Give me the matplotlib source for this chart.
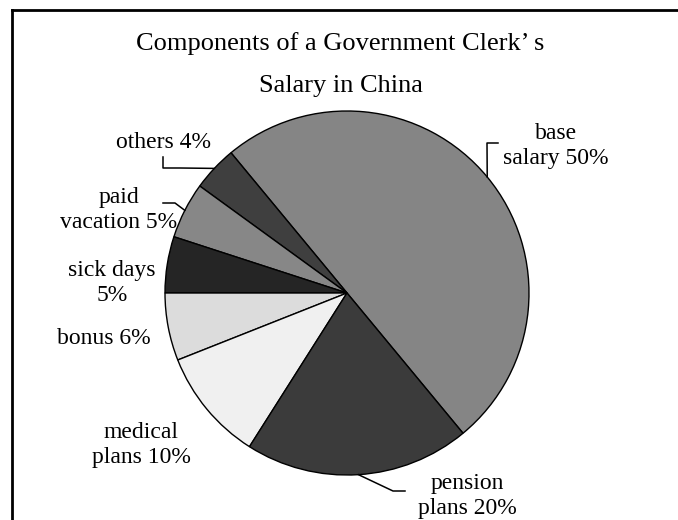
import numpy as np
import matplotlib.pyplot as plt
from matplotlib.lines import Line2D

# data (counterclockwise from the base salary wedge)
labels = ["base\nsalary 50%", "others 4%", "paid\nvacation 5%", "sick days\n5%",
          "bonus 6%", "medical\nplans 10%", "pension\nplans 20%"]
shares = [50, 4, 5, 5, 6, 10, 20]
colors = ["#858585", "#3f3f3f", "#878787", "#252525", "#dcdcdc", "#f0f0f0", "#3b3b3b"]

W, H = 678, 520
plt.rcParams['font.family'] = ['Liberation Serif', 'DejaVu Serif']

fig = plt.figure(figsize=(W / 100, H / 100), dpi=100)
ax = fig.add_axes([0, 0, 1, 1])

cx, cy, r = 347, H - 293, 182
wedges, _ = ax.pie(shares, colors=colors, startangle=-50.4, counterclock=True,
                   center=(cx, cy), radius=r,
                   wedgeprops=dict(edgecolor="black", linewidth=1.0))
ax.set_xlim(0, W)
ax.set_ylim(0, H)
ax.set_aspect("equal")
ax.axis("off")

# label block centres (pixels from top-left)
label_pos = [(556, 146), (163, 143), (119, 210), (112, 283),
             (104, 338), (141, 445), (467, 496)]
for lab, (x, y) in zip(labels, label_pos):
    ax.text(x, H - y, lab, ha="center", va="center", fontsize=17,
            multialignment="center", linespacing=1.25)

# leader lines: start on the wedge edge at mid angle, then elbows
elbows = {
    0: [(487, 143), (498, 143)],
    1: [(180, 168), (163, 168), (163, 157)],
    2: [(175, 203), (163, 203)],
    6: [(393, 491), (405, 491)],
}
for i, pts in elbows.items():
    w = wedges[i]
    a = np.deg2rad((w.theta1 + w.theta2) / 2)
    x0, y0 = cx + r * np.cos(a), cy + r * np.sin(a)
    xs = [x0] + [p[0] for p in pts]
    ys = [y0] + [H - p[1] for p in pts]
    ax.plot(xs, ys, color="black", lw=1.1)

# title
ax.text(340, H - 44, "Components of a Government Clerk’ s", ha="center", va="center", fontsize=19)
ax.text(341, H - 86, "Salary in China", ha="center", va="center", fontsize=19)

# frame (open on the right and bottom)
fig.add_artist(Line2D([12 / W, 12 / W], [0, 1 - 10 / H], color="black", lw=2))
fig.add_artist(Line2D([12 / W, 1], [1 - 10 / H, 1 - 10 / H], color="black", lw=2))

fig.savefig("out.png", dpi=100)
